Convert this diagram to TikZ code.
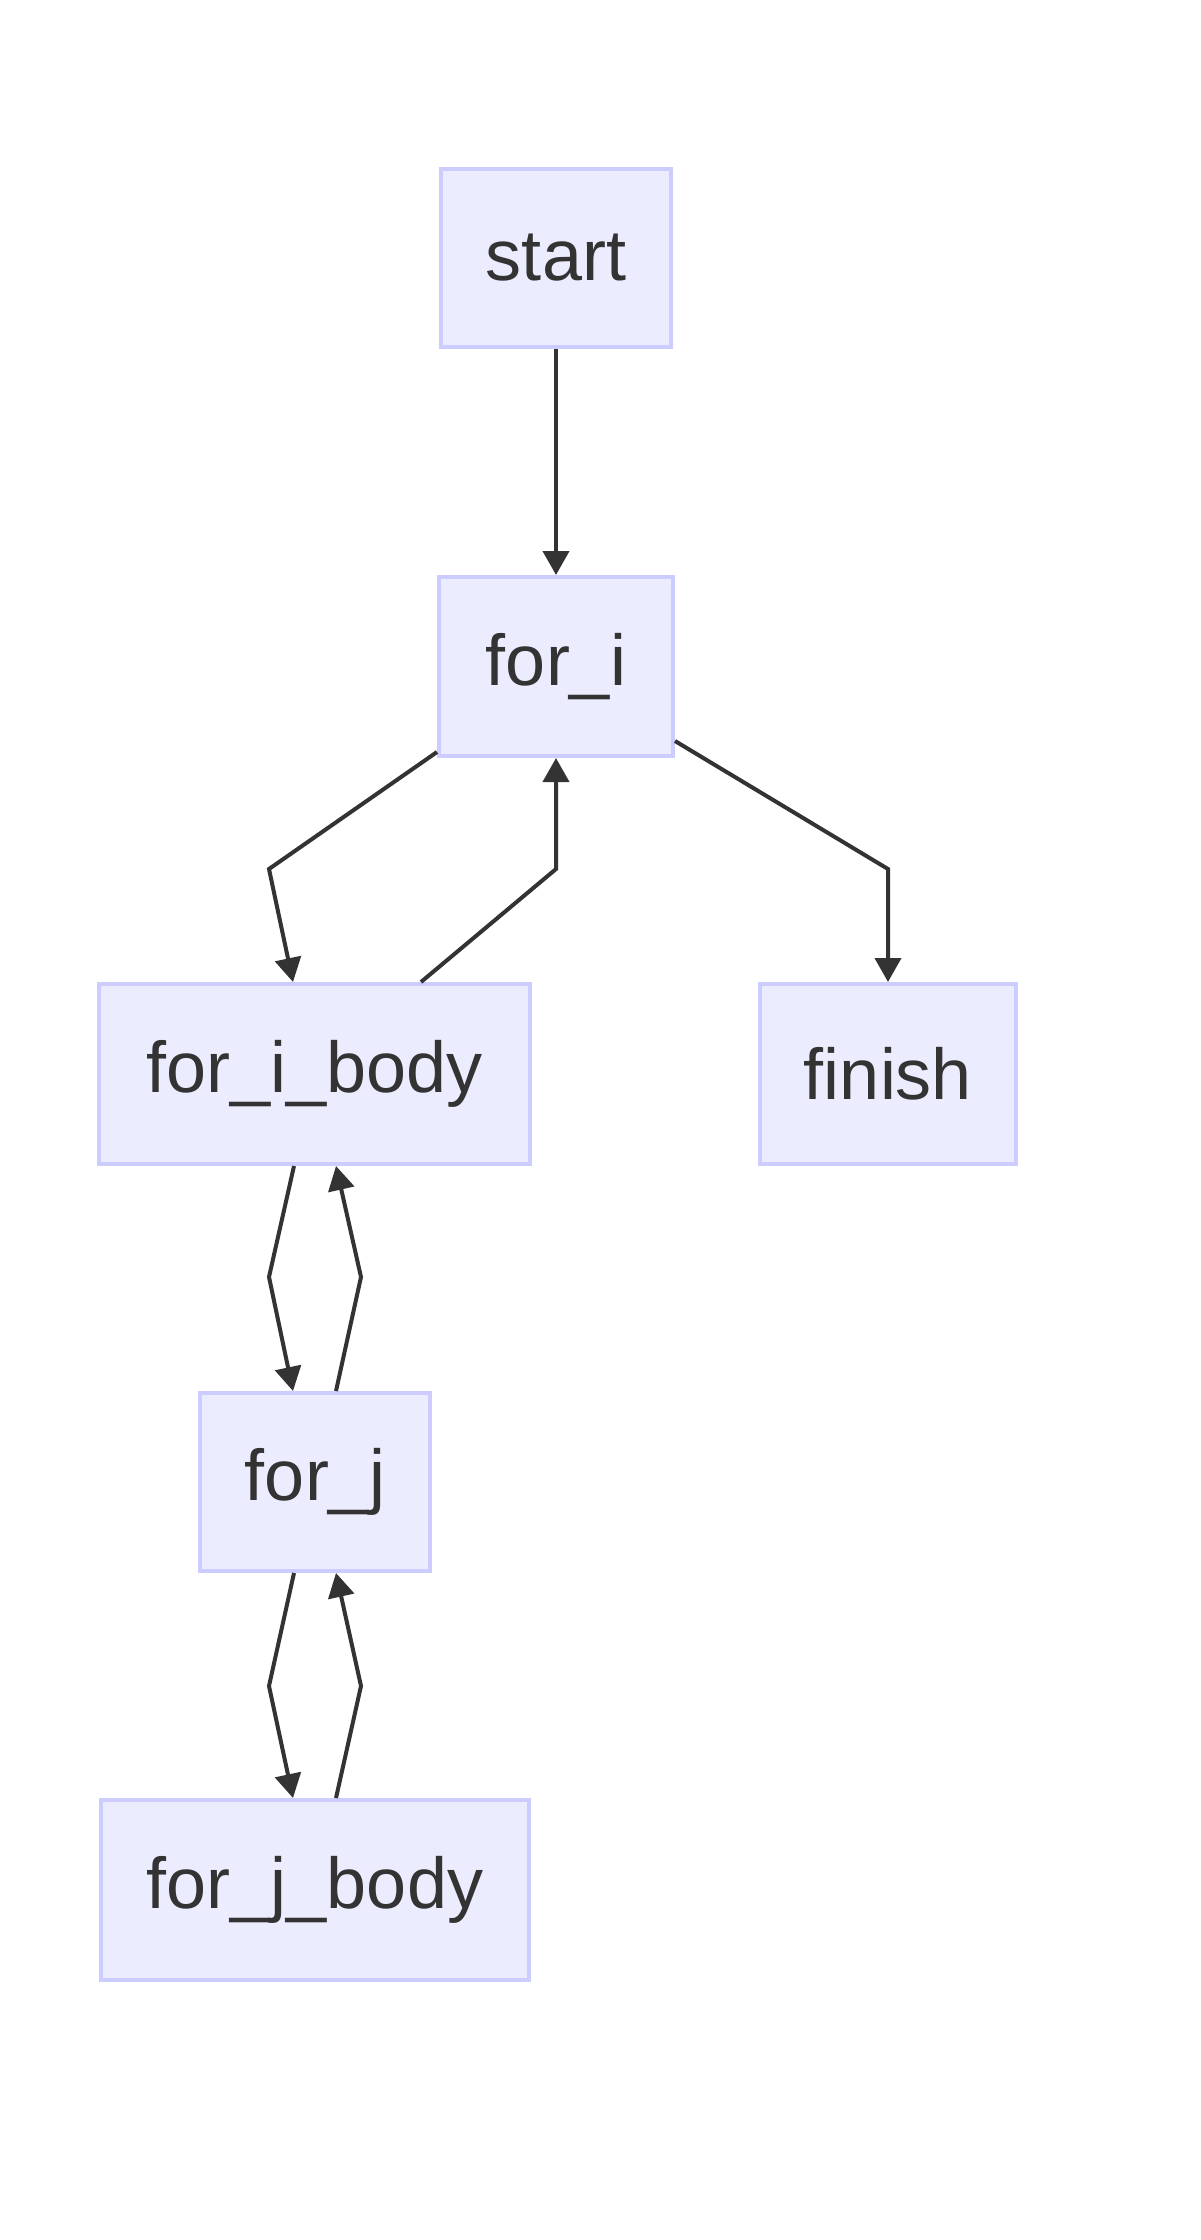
\documentclass[tikz,border=0pt]{standalone}
\usepackage{fontspec}
\setmainfont{Liberation Sans}
\usetikzlibrary{arrows.meta,calc}
\definecolor{nodefill}{HTML}{ECECFF}
\definecolor{nodeline}{HTML}{CCCCFF}
\definecolor{ink}{HTML}{333333}
\begin{document}
\begin{tikzpicture}[x=1pt,y=-1pt,
  box/.style={draw=nodeline,fill=nodefill,line width=4pt,rectangle,inner sep=0pt,
    text=ink,font=\fontsize{72}{86}\selectfont},
  link/.style={draw=ink,line width=4pt,-{Triangle[length=24pt,width=26pt]}}]
\useasboundingbox (0,0) rectangle (1200,2240);
\node[box,minimum width=230pt,minimum height=178pt] (start) at (556,258) {start};
\node[box,minimum width=234pt,minimum height=179pt] (fori) at (556,666.5) {for\_i};
\node[box,minimum width=431pt,minimum height=180pt] (forib) at (314.5,1074) {for\_i\_body};
\node[box,minimum width=256pt,minimum height=180pt] (finish) at (888,1074) {finish};
\node[box,minimum width=230pt,minimum height=178pt] (forj) at (315,1482) {for\_j};
\node[box,minimum width=428pt,minimum height=180pt] (forjb) at (315,1890) {for\_j\_body};
\coordinate (b1) at (269,869);
\coordinate (b2) at (556,869);
\coordinate (b3) at (888,869);
\coordinate (b4) at (269,1277);
\coordinate (b5) at (361,1277);
\coordinate (b6) at (269,1686);
\coordinate (b7) at (361,1686);
\draw[link] (start.south) -- (fori.north);
\draw[link] ($(fori.south west)+(0,-6)$) -- (b1) -- ($(forib.north)+(-21.5,0)$);
\draw[link] ($(forib.north)+(106.5,0)$) -- (b2) -- (fori.south);
\draw[link] ($(fori.south east)+(0,-17)$) -- (b3) -- (finish.north);
\draw[link] ($(forib.south)+(-20.5,0)$) -- (b4) -- ($(forj.north)+(-22,0)$);
\draw[link] ($(forj.north)+(21,0)$) -- (b5) -- ($(forib.south)+(21.5,0)$);
\draw[link] ($(forj.south)+(-21,0)$) -- (b6) -- ($(forjb.north)+(-22,0)$);
\draw[link] ($(forjb.north)+(21,0)$) -- (b7) -- ($(forj.south)+(21,0)$);
\end{tikzpicture}
\end{document}
